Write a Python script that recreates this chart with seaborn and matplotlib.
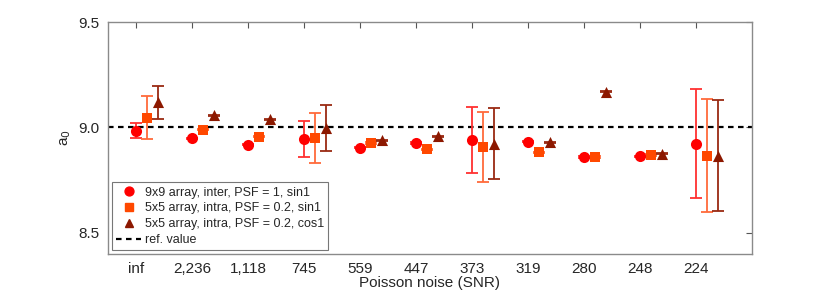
import numpy as np
import pandas as pd
import seaborn as sns
import matplotlib
matplotlib.use("Agg")
import matplotlib.pyplot as plt
from matplotlib.lines import Line2D

# tick labels (Poisson noise SNR)
snr_labels = ["inf", "2,236", "1,118", "745", "559", "447", "373", "319", "280", "248", "224"]

# 9x9 array, inter, PSF = 1, sin1
inter_val = [8.985, 8.948, 8.918, 8.946, 8.905, 8.926, 8.940, 8.932, 8.860, 8.863, 8.924]
inter_err = [0.035, 0.003, 0.003, 0.086, 0.003, 0.003, 0.157, 0.003, 0.003, 0.003, 0.259]

# 5x5 array, intra, PSF = 0.2, sin1
sin_val = [9.047, 8.989, 8.957, 8.950, 8.927, 8.897, 8.907, 8.882, 8.860, 8.869, 8.867]
sin_err = [0.100, 0.003, 0.003, 0.117, 0.003, 0.003, 0.166, 0.003, 0.003, 0.003, 0.266]

# 5x5 array, intra, PSF = 0.2, cos1
cos_val = [9.120, 9.058, 9.038, 8.998, 8.940, 8.958, 8.924, 8.930, 9.170, 8.876, 8.866]
cos_err = [0.078, 0.003, 0.003, 0.110, 0.003, 0.003, 0.167, 0.003, 0.003, 0.003, 0.264]

ref_value = 9.0

sns.set_style("white")
plt.rcParams['font.family'] = ['Liberation Sans', 'DejaVu Sans']

fig = plt.figure(figsize=(8.3, 2.9), dpi=100)
ax = fig.add_axes([0.130, 0.124, 0.776, 0.800])

pos = np.arange(1, len(snr_labels) + 1)

series = [
    ("9x9 array, inter, PSF = 1, sin1", inter_val, inter_err, 0.0, "o", "#ff0000", "#ff3030", 8),
    ("5x5 array, intra, PSF = 0.2, sin1", sin_val, sin_err, 0.2, "s", "#ff4800", "#ff6a3a", 7),
    ("5x5 array, intra, PSF = 0.2, cos1", cos_val, cos_err, 0.4, "^", "#8c1800", "#9a2a12", 8),
]

handles = []
for name, vals, errs, off, mk, col, ecol, ms in series:
    df = pd.DataFrame({"x": pos + off, "y": vals, "err": errs})
    ax.errorbar(df["x"], df["y"], yerr=df["err"], fmt="none", ecolor=ecol,
                elinewidth=1.3, capsize=4, capthick=1.3, zorder=2)
    sns.scatterplot(data=df, x="x", y="y", ax=ax, marker=mk, color=col,
                    s=ms ** 2, edgecolor=col, linewidth=0, zorder=3, legend=False)
    handles.append(Line2D([], [], linestyle="none", marker=mk, color=col,
                          markersize=ms * 0.8, label=name))

ax.axhline(ref_value, color="black", linestyle=(0, (2.5, 2)), linewidth=1.6, zorder=1)
handles.append(Line2D([], [], color="black", linestyle=(0, (2.5, 2)), linewidth=1.6,
                      label="ref. value"))

ax.set_xlim(0.5, 12.0)
ax.set_ylim(8.4, 9.5)
ax.set_xticks(pos)
ax.set_xticklabels(snr_labels)
ax.set_yticks([8.5, 9.0, 9.5])
ax.set_yticklabels(["8.5", "9.0", "9.5"])
ax.tick_params(direction="in", length=4, width=0.8, color="#555555",
               top=True, right=True, labelsize=11, pad=6)
for sp in ax.spines.values():
    sp.set_color("#8a8a8a")
    sp.set_linewidth(1.0)

ax.set_xlabel("Poisson noise (SNR)", fontsize=11, labelpad=0)
ax.set_ylabel("a$_0$", fontsize=11, labelpad=4)

leg = ax.legend(handles=handles, loc="lower left", fontsize=9, frameon=True,
                fancybox=False, borderpad=0.35, labelspacing=0.3,
                handlelength=2.0, handletextpad=0.3, borderaxespad=0.3)
leg.get_frame().set_edgecolor("#555555")
leg.get_frame().set_linewidth(0.8)

fig.savefig("out.png", dpi=100)
